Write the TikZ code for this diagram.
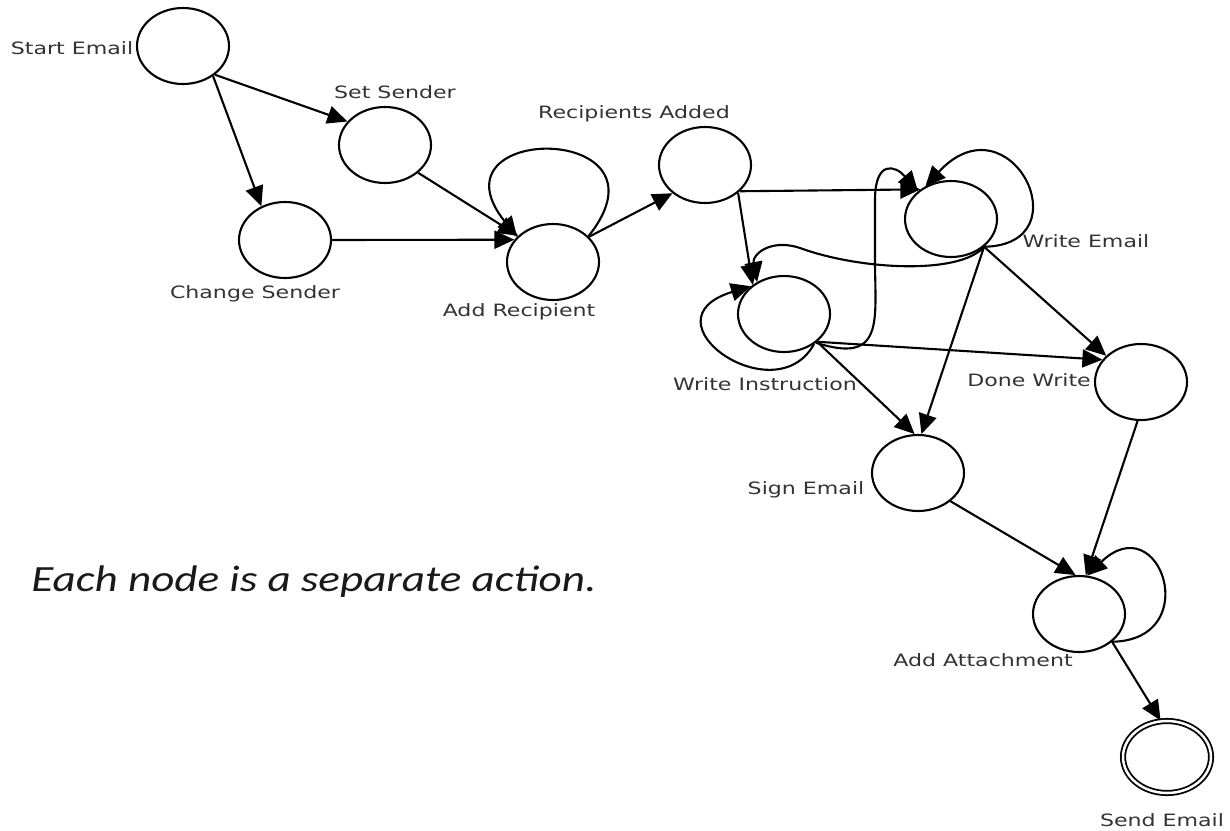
\documentclass[tikz,border=0pt]{standalone}
\usepackage{fontspec}
\setmainfont{DejaVu Sans}
\newfontfamily\notefont{Carlito}
\usetikzlibrary{shapes.geometric,arrows.meta}
\begin{document}
\begin{tikzpicture}[x=1pt,y=-1pt,
  state/.style={draw=black,ellipse,line width=2.1pt,minimum width=92pt,minimum height=76pt,inner sep=0pt},
  lbl/.style={text=black!80,font=\fontsize{17}{20}\selectfont,xscale=1.3,inner sep=0pt},
  edge/.style={line width=2.1pt,-{Triangle[length=20pt,width=18pt]}},
  loopedge/.style={line width=2.1pt,-{Triangle[length=20pt,width=18pt]}}]
\useasboundingbox (0,0) rectangle (1230,830);
% states
\node[state] (start) at (183,46) {};
\node[state] (set) at (385,145) {};
\node[state] (chg) at (285,240) {};
\node[state] (ar) at (553,262) {};
\node[state] (ra) at (705,165) {};
\node[state] (we) at (951,219) {};
\node[state] (wi) at (784,314) {};
\node[state] (dw) at (1141,382) {};
\node[state] (se) at (918,473) {};
\node[state] (aa) at (1079,614) {};
\node[state,double,double distance=2.5pt,line width=1.8pt,minimum width=88pt,minimum height=72pt] (send) at (1167,757) {};
% labels
\node[lbl] (lstart) at (72,48) {Start Email};
\node[lbl] (lset) at (395,92) {Set Sender};
\node[lbl] (lchg) at (255,294) {Change Sender};
\node[lbl] (lar) at (519,312) {Add Recipient};
\node[lbl] (lra) at (634,114) {Recipients Added};
\node[lbl] (lwe) at (1086,241) {Write Email};
\node[lbl] (lwi) at (765,384) {Write Instruction};
\node[lbl] (ldw) at (1029,380) {Done Write};
\node[lbl] (lse) at (806,490) {Sign Email};
\node[lbl] (laa) at (983,660) {Add Attachment};
\node[lbl] (lsend) at (1162,820) {Send Email};
\node[font=\notefont\itshape\fontsize{37}{40}\selectfont,text=black!90,xscale=1.22,inner sep=0pt] (note) at (314,582) {Each node is a separate action.};
% edges
\draw[edge] (start.-42) -- (set.148);
\draw[edge] (start.-45) -- (chg.125);
\draw[edge] (set.-40) -- (ar.143);
\draw[edge] (chg.0) -- (ar.150);
\draw[loopedge] (ar.36) .. controls (680,122) and (425,122) .. (ar.145);
\draw[edge] (ar.35) -- (ra.221);
\draw[edge] (ra.-37) -- (we.136);
\draw[edge] (ra.-40) -- (wi.137);
\draw[loopedge] (we.-40) .. controls (1085,245) and (1010,95) .. (we.128);
\draw[edge] (wi.-42) .. controls (885,365) and (875,320) .. (875,260) -- (875,200) .. controls (875,160) and (895,165) .. (we.140);
\draw[edge] (we.-40) .. controls (960,275) and (860,270) .. (800,248) .. controls (770,238) and (752,255) .. (wi.130);
\draw[loopedge] (wi.-45) .. controls (775,415) and (640,320) .. (wi.140);
\draw[edge] (wi.-40) -- (dw.150);
\draw[edge] (wi.-40) -- (se.95);
\draw[edge] (we.-40) -- (se.85);
\draw[edge] (we.-40) -- (dw.143);
\draw[edge] (dw.-95) -- (aa.80);
\draw[edge] (se.-41) -- (aa.95);
\draw[loopedge] (aa.-40) .. controls (1205,640) and (1160,505) .. (aa.78);
\draw[edge] (aa.-40) -- (send.100);
\end{tikzpicture}
\end{document}
